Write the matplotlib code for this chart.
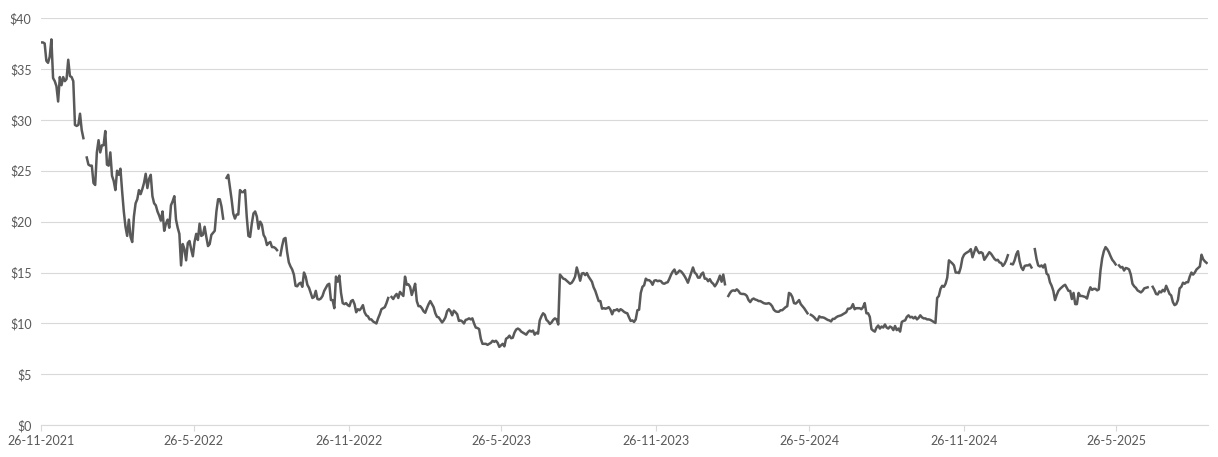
import numpy as np
import pandas as pd
import matplotlib
matplotlib.use("Agg")
import matplotlib.pyplot as plt

nan = np.nan

# closing prices, one reading every 2 days from 26-11-2021 (nan = no data)
prices_2021_22 = [37.6, 37.6, 37.5, 35.8, 35.6, 36.2, 37.9, 34.1, 33.8, 33.3, 31.8, 34.2, 33.4,
                  34.2, 33.8, 34.0, 35.9, 34.3, 34.2, 33.8, 29.5, 29.4, 29.5, 30.6, 29.0, 28.2,
                  nan,
                  26.3, 25.6, 25.5, 25.5, 23.8, 23.6, 26.8, 28.0, 26.8, 27.5, 27.5, 28.9, 25.6,
                  25.5, 26.8, 24.5, 24.0, 23.1, 25.0, 24.6, 25.2, 23.0, 21.0, 19.5, 18.6, 20.2,
                  18.5, 18.0, 20.5, 21.8, 22.2, 23.1, 22.7, 23.2, 23.8, 24.7, 23.3, 24.2, 24.6,
                  22.5, 21.8, 21.6, 21.0, 20.6, 20.1, 21.0, 19.1, 19.8, 20.2, 19.4, 21.6, 22.0,
                  22.5, 20.2, 19.4, 18.8, 15.7, 17.8, 17.3, 16.2, 17.9, 18.1, 17.3, 16.6, 18.0,
                  18.8, 18.2, 19.8, 18.6, 18.7, 19.5, 18.5, 17.6]

prices_2022_23 = [17.8, 18.7, 18.9, 19.1, 21.0, 22.2, 22.2, 21.5, 20.3, nan, 24.3, 24.6, 23.4,
                  22.2, 20.8, 20.3, 20.7, 20.7, 23.1, 22.9, 22.9, 23.1, 20.5, 18.6, 18.5, 19.8,
                  20.8, 21.0, 20.5, 19.3, 20.0, 19.7, 18.7, 18.4, 17.7, 17.9, 18.0, 17.5, 17.5,
                  17.4, 17.2, nan, 16.7, 17.6, 18.3, 18.4, 17.0, 16.0, 15.6, 15.3, 14.8, 13.7,
                  13.65, 13.9, 14.0, 13.6, 15.0, 14.6, 13.8, 13.5, 13.0, 12.5, 12.6, 13.2, 12.4,
                  12.35, 12.45, 12.7, 13.2, 13.5, 13.8, 13.9, 12.3, 12.3, 11.5, 14.6, 14.1, 14.7,
                  13.0, 12.0, 11.9, 12.0, 11.8, 11.7, 12.2, 12.3, 11.9, 11.1, 11.4, 11.3, 11.5,
                  11.8, 11.1, 10.8, 10.7, 10.4, 10.4, 10.2, 10.1, 10.0, 10.5, 10.9, 11.4, 11.5,
                  11.6, 12.0, 12.5, nan, 12.6, 12.4, 12.7, 12.9, 12.5]

prices_2023 = [13.1, 12.9, 12.7, 14.6, 13.8, 13.85, 13.6, 12.8, 13.3, 13.9, 12.2, 11.7, 11.7,
               11.5, 11.2, 11.05, 11.5, 11.9, 12.2, 11.9, 11.6, 11.0, 10.65, 10.6, 10.35, 10.1,
               10.3, 10.6, 11.2, 11.4, 11.2, 10.8, 11.25, 11.1, 10.9, 10.25, 10.3, 10.2, 10.0,
               10.35, 10.4, 10.5, 10.4, 10.5, 10.0, 9.6, 9.55, 9.45, 8.5, 8.0, 8.0, 8.0, 7.9,
               8.0, 8.1, 8.3, 8.2, 8.3, 8.1, 7.7, 7.85, 8.0, 7.75, 8.5, 8.6, 8.8, 8.55, 8.6, 9.1,
               9.4, 9.5, 9.4, 9.2, 9.1, 9.0, 8.9, 9.15, 9.3, 9.2, 9.3, 8.9, 9.1, 9.0, 10.3, 10.7,
               11.0, 10.85, 10.35, 10.2, 9.95, 10.1, 10.35, 10.5, 10.4, 9.9, 14.8, 14.6, 14.4,
               14.35, 14.2, 14.05, 13.9, 14.0, 14.25, 14.6, 15.5, 14.9, 14.2, 14.9, 14.95, 14.75,
               14.95, 14.6, 14.35, 14.1, 13.55, 13.2, 12.7, 12.2]

prices_2023_24 = [12.2, 11.45, 11.5, 11.45, 11.5, 11.6, 11.35, 10.9, 11.3, 11.3, 11.4, 11.2,
                  11.4, 11.3, 11.15, 11.05, 11.0, 10.6, 10.25, 10.3, 10.15, 10.4, 11.3, 11.35,
                  13.0, 13.6, 13.75, 14.4, 14.25, 14.25, 14.1, 13.8, 14.2, 14.25, 14.15, 14.2,
                  14.15, 13.95, 13.9, 14.0, 14.05, 14.4, 14.8, 15.1, 15.3, 14.85, 15.0, 15.2,
                  15.1, 14.9, 14.65, 14.35, 14.0, 14.5, 15.0, 15.5, 15.0, 14.85, 14.5, 14.5,
                  14.85, 15.0, 14.4, 14.4, 14.15, 14.35, 14.05, 13.9, 13.65, 13.9, 14.25, 14.7,
                  14.1, 14.8, 13.85, nan, 12.7, 13.0, 13.2, 13.25, 13.2, 13.35, 13.2, 12.95, 12.9,
                  12.9, 12.85, 12.7, 12.3, 12.1, 12.35, 12.45, 12.35, 12.3, 12.2, 12.2, 12.1,
                  12.0, 11.95, 11.95, 12.0, 11.9, 11.7, 11.35, 11.2, 11.15, 11.15, 11.3, 11.3,
                  11.45, 11.6, 11.7, 13.0, 12.9, 12.6, 12.0, 11.95, 12.1, 12.3]

prices_2024 = [11.9, 11.7, 11.5, 11.25, 11.0, nan, 10.85, 10.75, 10.6, 10.4, 10.3, 10.7, 10.6,
               10.6, 10.55, 10.45, 10.35, 10.3, 10.2, 10.45, 10.45, 10.6, 10.7, 10.75, 10.8,
               10.9, 11.0, 11.1, 11.45, 11.45, 11.55, 11.9, 11.4, 11.5, 11.5, 11.5, 11.4, 11.6,
               12.0, 11.0, 11.0, 10.65, 9.45, 9.3, 9.2, 9.6, 9.8, 9.5, 9.7, 9.6, 9.9, 9.6, 9.5,
               9.7, 9.6, 9.35, 9.75, 9.35, 9.5, 9.2, 10.15, 10.25, 10.3, 10.65, 10.8, 10.6,
               10.65, 10.5, 10.65, 10.4, 10.55, 10.8, 10.6, 10.5, 10.5, 10.4, 10.4, 10.35, 10.25,
               10.15, 10.05, 12.5, 12.7, 13.4, 13.7, 13.6, 13.9, 14.5, 16.2, 16.05, 15.9, 15.7,
               15.0, 15.0, 14.95, 15.5, 16.4, 16.75, 16.9, 17.0, 17.1, 17.3, 16.5, 17.0, 17.5,
               17.15, 16.9, 17.0, 16.9, 16.25, 16.5, 16.75, 17.0, 16.85, 16.6, 16.35, 16.2, 16.25]

prices_2025 = [16.0, 15.95, 15.65, 15.85, 16.2, 16.7, nan, 15.85, 15.8, 16.2, 16.8, 17.1, 16.1,
               15.5, 15.25, 15.65, 15.7, 15.7, 15.8, 15.5, nan, 17.3, 16.35, 15.7, 15.6, 15.7,
               15.5, 15.8, 14.9, 14.75, 14.05, 13.7, 13.2, 12.3, 12.8, 13.2, 13.4, 13.55, 13.7,
               13.8, 13.5, 13.2, 13.2, 12.4, 13.0, 11.9, 11.9, 13.0, 12.7, 12.7, 12.65, 12.6,
               12.45, 13.1, 13.55, 13.3, 13.4, 13.4, 13.25, 13.35, 15.2, 16.4, 17.1, 17.5, 17.3,
               17.0, 16.6, 16.25, 16.05, 15.8, nan, 15.7, 15.5, 15.55, 15.2, 15.45, 15.4, 15.3,
               14.8, 13.9, 13.65, 13.5, 13.25, 13.15, 13.05, 13.2, 13.45, 13.5, 13.55, nan, nan,
               13.6, 13.3, 12.9, 12.85, 13.15, 13.05, 13.3, 13.15, 13.7, 13.3, 12.9, 12.75, 12.1,
               11.8, 11.9, 12.3, 13.45, 13.6, 14.0, 13.9, 14.05, 14.05, 14.6, 15.0, 14.8, 15.0,
               15.3, 15.45, 15.6, 16.75, 16.3, 16.1, 15.95]

tick_dates = ["2021-11-26", "2022-05-26", "2022-11-26", "2023-05-26",
              "2023-11-26", "2024-05-26", "2024-11-26", "2025-05-26"]
y_ticks = [0, 5, 10, 15, 20, 25, 30, 35, 40]

prices = (prices_2021_22 + prices_2022_23 + prices_2023 + prices_2023_24
          + prices_2024 + prices_2025)
dates = pd.date_range("2021-11-26", periods=len(prices), freq="2D")

plt.rcParams['font.family'] = ['Lato', 'DejaVu Sans']

fig = plt.figure(figsize=(12.18, 4.57), dpi=100)
ax = fig.add_axes([0.0339, 0.0694, 0.9581, 0.8912])

ax.plot(dates, prices, color="#595959", linewidth=1.8)

ax.set_ylim(0, 40)
ax.set_yticks(y_ticks)
ax.set_yticklabels(["$%d" % v for v in y_ticks])
ax.set_xlim(pd.Timestamp("2021-11-26"), pd.Timestamp("2025-09-12"))
ticks = pd.to_datetime(tick_dates)
ax.set_xticks(ticks)
ax.set_xticklabels(["%d-%d-%d" % (t.day, t.month, t.year) for t in ticks])

ax.grid(axis="y", color="#d9d9d9", linewidth=0.8)
ax.set_axisbelow(True)
for s in ["top", "right", "left"]:
    ax.spines[s].set_visible(False)
ax.spines["bottom"].set_color("#d9d9d9")
ax.spines["bottom"].set_linewidth(0.8)

ax.tick_params(axis="y", length=0, pad=7, labelsize=9, labelcolor="#595959")
ax.tick_params(axis="x", length=4, color="#d9d9d9", pad=3, labelsize=9, labelcolor="#595959")

fig.savefig("out.png", dpi=100)
